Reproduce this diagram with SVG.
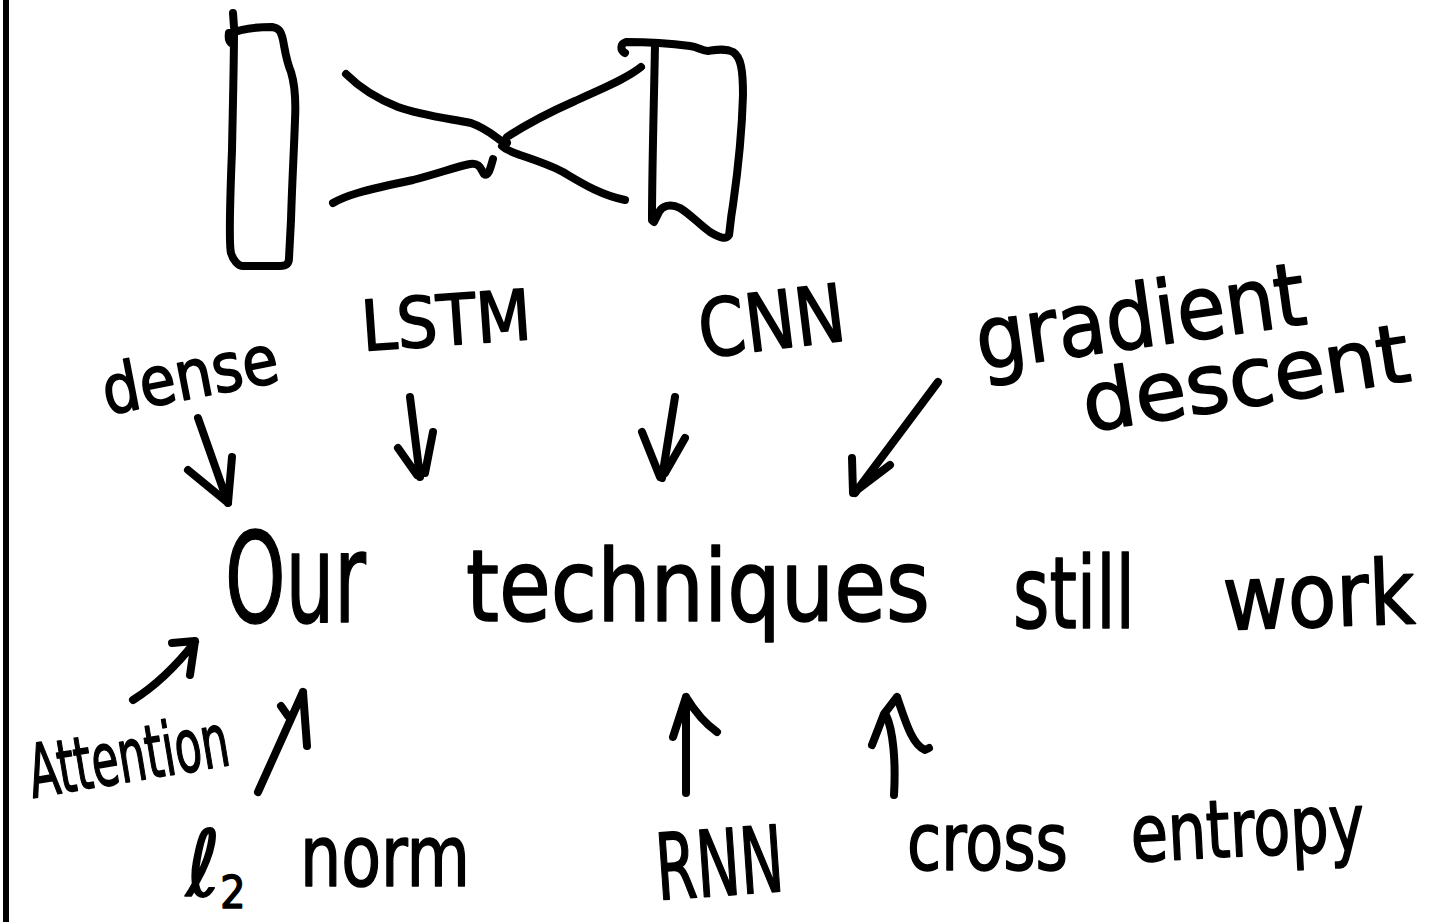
<svg xmlns="http://www.w3.org/2000/svg" width="1448" height="922" viewBox="0 0 1448 922">
<style>
.ink{fill:none;stroke:#000;stroke-width:8;stroke-linecap:round;stroke-linejoin:round}
.hw{font-family:"Liberation Sans Narrow","DejaVu Sans Condensed","Liberation Sans",sans-serif;fill:#000;stroke:#000;stroke-width:1.5;stroke-linejoin:round}
</style>
<rect width="1448" height="922" fill="#fff"/>
<line x1="6" y1="0" x2="6" y2="922" stroke="#000" stroke-width="6"/>

<g id="network-sketch" class="ink">
  <path d="M233,13 L234,27 M229,33 C228,38 229,41 231,43"/>
  <path d="M229,34 C240,29 252,27 272,27 C279,28 281,31 283,40 C285,50 286,60 291,72 C295,85 296,100 295,120 C294,150 292,185 291,220 L289,258 C289,264 286,266 280,266 L243,266 C238,266 233,260 231,253 C229,245 230,200 232,150 C233,100 234,60 234,33"/>
  <path d="M625,53 C620,50 620,44 626,42 C650,42 675,44 690,46 C698,47 702,51 708,51 C716,50 725,48 733,52 C741,57 743,70 743,95 C742,130 738,170 733,205 C730,222 730,230 729,235 C726,240 720,238 710,232 C700,225 690,214 680,208 C670,203 662,206 659,212 L654,222"/>
  <path d="M652,220 C652,170 654,100 655,45"/>
  <path d="M346,74 C360,88 375,98 398,107 C420,115 445,118 471,123 C485,128 492,134 500,140 L507,143"/>
  <path d="M333,203 C345,196 360,191 413,180 C440,173 455,167 470,164 C480,162 481,170 484,174 C488,177 490,170 493,159"/>
  <path d="M507,137 C530,122 550,112 575,101 C598,90 625,80 641,67"/>
  <path d="M502,146 C506,150 512,152 520,155 C535,160 550,165 563,172 C580,182 600,195 625,200"/>
</g>

<g id="center">
  <text class="hw" x="225" y="622" font-size="125" textLength="141" lengthAdjust="spacingAndGlyphs">Our</text>
  <text class="hw" x="466" y="621" font-size="100" textLength="464" lengthAdjust="spacingAndGlyphs">techniques</text>
  <text class="hw" x="1013" y="628" font-size="100" textLength="122" lengthAdjust="spacingAndGlyphs">still</text>
  <text class="hw" x="1224" y="630" font-size="90" textLength="192" lengthAdjust="spacingAndGlyphs" transform="rotate(-2 1224 630)">work</text>
</g>

<g id="dense"><text class="hw" x="107" y="415" font-size="68" textLength="178" lengthAdjust="spacingAndGlyphs" transform="rotate(-11 107 415)">dense</text></g>
<g id="lstm"><text class="hw" x="363" y="351" font-size="70" textLength="170" lengthAdjust="spacingAndGlyphs" transform="rotate(-4 363 351)">LSTM</text></g>
<g id="cnn"><text class="hw" x="702" y="358" font-size="80" textLength="147" lengthAdjust="spacingAndGlyphs" transform="rotate(-7 702 358)">CNN</text></g>
<g id="gradient-descent">
  <text class="hw" x="980" y="370" font-size="88" textLength="332" lengthAdjust="spacingAndGlyphs" transform="rotate(-8 980 370)">gradient</text>
  <text class="hw" x="1087" y="432" font-size="82" textLength="330" lengthAdjust="spacingAndGlyphs" transform="rotate(-9 1087 432)">descent</text>
</g>
<g id="attention"><text class="hw" x="33" y="798" font-size="74" textLength="202" lengthAdjust="spacingAndGlyphs" transform="rotate(-9.5 33 798)">Attention</text></g>
<g id="l2-norm">
  <text class="hw" x="186" y="896" font-size="92">ℓ<tspan font-size="44" dy="12">2</tspan></text>
  <text class="hw" x="300" y="886" font-size="85" textLength="170" lengthAdjust="spacingAndGlyphs">norm</text>
</g>
<g id="rnn"><text class="hw" x="658" y="900" font-size="92" textLength="128" lengthAdjust="spacingAndGlyphs" transform="rotate(-4 658 900)">RNN</text></g>
<g id="cross-entropy">
  <text class="hw" x="907" y="870" font-size="80" textLength="161" lengthAdjust="spacingAndGlyphs">cross</text>
  <text class="hw" x="1132" y="862" font-size="80" textLength="234" lengthAdjust="spacingAndGlyphs" transform="rotate(-3 1132 862)">entropy</text>
</g>

<g id="connectors" class="ink">
  <path d="M198,418 L228,503 M188,470 L227,502 M232,457 L228,503"/>
  <path d="M410,397 L420,477 M398,448 L417,475 M433,432 L425,473"/>
  <path d="M675,397 L662,478 M642,432 L660,477 M685,438 L665,473"/>
  <path d="M938,382 L855,493 M852,458 L853,493 L890,465"/>
  <path d="M133,700 Q165,680 195,642 M172,643 L195,641 L190,675"/>
  <path d="M258,792 L303,692 M281,706 L288,716 M303,692 L307,746"/>
  <path d="M686,793 L686,697 M673,737 L686,697 M686,697 Q700,720 717,732"/>
  <path d="M894,795 C896,760 893,730 886,715 M872,745 L884,714 L897,697 M897,697 C905,720 912,745 925,750 L929,748"/>
</g>
</svg>
